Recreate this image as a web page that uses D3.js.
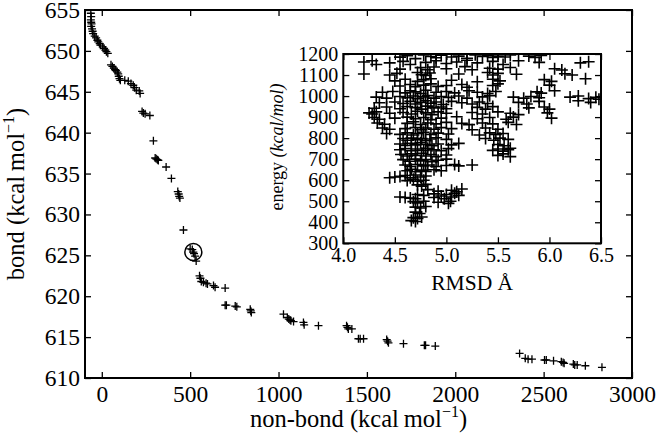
<!DOCTYPE html>
<html><head><meta charset="utf-8">
<script src="https://cdn.jsdelivr.net/npm/d3@7"></script>
<style>
body{margin:0;background:#fff;}
svg text{font-family:"Liberation Serif","Times New Roman",Times,serif !important;fill:#000;}
.axis path{display:none;}
.axis line{stroke:#000;stroke-width:1.3;}
</style></head><body>
<svg id="c" width="657" height="437"></svg>
<script>
// ---- main plot data ----
const nonBond = [-62,-60,-62,-60,-58,-60,-55,-52,-49,-40,-32,-25,-20,-12,-8,5,13,20,26,34,
 52,60,68,75,80,88,93,96,100,105,130,150,165,178,185,195,212,217,
 228,235,245,272,292,302,308,315,320,364,394,430,435,438,442,462,
 500,512,518,522,528,534,553,558,563,575,590,598,632,641,698,
 698,705,755,764,840,843,846,1028,1050,1058,1065,1070,1085,1141,1145,1226,
 1385,1390,1395,1415,1452,1462,1481,1612,1617,1622,1707,1825,1832,1887,
 2364,2396,2412,2434,2505,2515,2556,2600,2610,2616,2668,2676,2690,2736,2830];
const bond = [654.6,654.2,653.8,653.5,653.3,653.0,652.7,652.4,652.1,651.8,651.6,651.3,651.1,650.9,650.7,650.5,650.3,650.1,649.9,649.7,
 648.3,648.1,647.9,647.7,647.6,647.4,647.2,646.9,646.6,646.4,646.4,646.3,646.0,645.8,645.5,645.2,645.1,644.8,
 642.6,642.4,642.3,642.1,639.0,636.9,636.8,636.7,636.6,635.8,634.4,632.8,632.5,632.2,632.0,628.1,
 625.8,625.7,625.4,625.2,624.9,624.3,622.5,622.2,621.8,621.7,621.6,621.5,621.3,621.1,621.0,
 618.9,618.9,618.8,618.7,618.4,618.2,618.0,617.8,617.4,617.2,617.1,617.0,616.9,616.8,616.5,616.4,
 616.4,616.2,616.0,616.0,614.8,614.8,614.8,614.7,614.5,614.3,614.2,614.0,614.0,613.9,
 613.0,612.4,612.3,612.3,612.2,612.2,612.1,612.0,611.9,611.8,611.7,611.6,611.6,611.5,611.3];
const highlight = [518, 625.4];
const xTicks = [0,500,1000,1500,2000,2500,3000];
const yTicks = [610,615,620,625,630,635,640,645,650,655];

// ---- inset data: [RMSD, energy] ----
const insetPoints = [
 [4.55,1185],[4.62,1192],[4.7,1178],[4.78,1195],[4.85,1188],[4.9,1182],[4.95,1194],[5.05,1186],[5.12,1190],[5.2,1180],[5.28,1196],[5.35,1188],[5.4,1192],[5.45,1184],[5.5,1190],[5.57,1186],[5.62,1195],[5.8,1190],[5.86,1184],[5.92,1193],
 [4.2,1162],[4.28,1168],[4.32,1150],[4.45,1158],[4.58,1165],[4.65,1150],[4.8,1160],[4.9,1168],[5.0,1155],[5.1,1162],[5.2,1170],[5.3,1158],[5.45,1165],[5.55,1150],[5.7,1168],[5.9,1160],[6.3,1158],[6.38,1163],
 [4.55,1128],[4.75,1135],[4.82,1125],[4.88,1138],[5.0,1130],[5.18,1140],[5.25,1125],[5.42,1132],[5.5,1128],[5.62,1136],[6.05,1130],[6.12,1124],
 [4.2,1105],[4.45,1100],[4.52,1108],[4.72,1112],[4.76,1102],[4.8,1098],[4.84,1110],[5.12,1105],[5.4,1112],[5.45,1100],[5.5,1108],[5.68,1104],[6.15,1106],[6.22,1100],
 [4.5,1072],[4.6,1080],[4.72,1070],[4.78,1078],[4.85,1082],[5.05,1075],[5.3,1068],[5.45,1080],[5.52,1072],[5.95,1078],[6.02,1070],[6.35,1082],
 [4.55,1048],[4.65,1055],[4.7,1045],[4.78,1052],[4.85,1058],[4.92,1046],[5.0,1050],[5.15,1055],[5.2,1042],[5.45,1050],[5.5,1058],[6.0,1052],
 [4.38,1018],[4.48,1022],[4.6,1015],[4.65,1025],[4.7,1020],[4.75,1012],[4.8,1028],[4.9,1018],[5.0,1022],[5.08,1015],[5.22,1025],[5.3,1018],[5.4,1012],[5.48,1022],[5.88,1020],[5.92,1014],[6.05,1025],
 [4.32,995],[4.42,990],[4.55,998],[4.62,992],[4.68,1000],[4.72,988],[4.78,996],[4.82,1002],[4.88,990],[4.95,998],[5.02,994],[5.12,1000],[5.2,990],[5.35,996],[5.42,1002],[5.65,995],[5.75,990],[5.82,998],[5.9,992],[6.2,995],[6.28,1000],[6.38,988],[6.45,994],[6.48,985],
 [4.35,968],[4.5,972],[4.58,965],[4.65,975],[4.7,962],[4.75,970],[4.8,978],[4.85,966],[4.9,972],[4.97,960],[5.05,975],[5.15,968],[5.25,962],[5.32,972],[5.4,965],[5.7,970],[5.78,962],[5.9,975],[6.28,978],[6.4,970],
 [4.3,942],[4.42,948],[4.55,940],[4.62,950],[4.7,945],[4.76,938],[4.82,952],[4.88,944],[4.95,948],[5.0,940],[5.3,946],[5.38,938],[5.45,950],[5.8,944],[5.95,948],[6.0,938],
 [4.25,920],[4.28,915],[4.32,925],[4.45,918],[4.58,922],[4.66,915],[4.72,928],[4.8,920],[4.86,912],[4.92,925],[5.0,918],[5.25,922],[5.35,915],[5.5,925],[5.62,918],[5.7,912],[5.98,920],
 [4.3,898],[4.35,890],[4.5,895],[4.62,900],[4.7,892],[4.78,898],[4.85,888],[4.95,895],[5.1,902],[5.3,892],[5.42,898],[5.58,890],[5.65,900],[6.02,895],
 [4.33,872],[4.4,866],[4.62,870],[4.68,878],[4.75,865],[4.82,872],[4.9,868],[5.0,875],[5.15,870],[5.22,864],[5.35,872],[5.45,868],[5.6,875],[5.68,865],
 [4.38,848],[4.45,842],[4.6,845],[4.7,850],[4.76,840],[4.8,848],[4.88,842],[4.95,850],[5.05,845],[5.25,840],[5.38,848],[5.5,842],
 [4.42,822],[4.55,818],[4.62,825],[4.68,815],[4.72,822],[4.78,828],[4.85,818],[4.92,824],[5.02,820],[5.32,815],[5.42,825],[5.48,818],[5.55,822],
 [4.58,798],[4.62,790],[4.66,800],[4.72,792],[4.76,798],[4.8,788],[4.84,796],[4.9,802],[5.0,794],[5.38,798],[5.46,790],[5.52,800],[5.6,794],
 [4.55,772],[4.6,765],[4.66,775],[4.7,768],[4.75,778],[4.8,770],[4.86,764],[4.92,772],[5.05,768],[5.12,775],[5.5,770],[5.56,764],
 [4.55,745],[4.6,750],[4.66,740],[4.72,748],[4.78,742],[4.82,752],[4.88,745],[4.95,740],[5.02,750],[5.45,742],[5.5,748],[5.55,738],[5.6,745],[5.62,752],
 [4.56,722],[4.62,715],[4.66,725],[4.7,718],[4.76,728],[4.8,715],[4.85,722],[4.9,712],[5.0,720],[5.5,718],[5.55,725],[5.62,712],
 [4.58,698],[4.64,690],[4.7,700],[4.75,692],[4.8,698],[4.86,688],[4.92,695],[5.0,700],
 [4.6,672],[4.65,665],[4.72,675],[4.78,668],[4.82,672],[4.9,665],[5.0,670],[5.08,675],[5.12,668],[5.25,672],
 [4.62,645],[4.66,652],[4.7,640],[4.76,648],[4.8,642],[4.88,650],[4.95,645],
 [4.45,612],[4.5,615],[4.55,618],[4.6,622],[4.65,612],[4.7,625],[4.75,615],[4.8,620],
 [4.62,598],[4.68,604],[4.72,595],[4.78,600],
 [4.72,578],[4.76,572],[4.8,580],
 [4.82,555],[4.92,548],[5.05,552],[5.1,545],[5.15,558],
 [4.72,532],[4.78,528],[4.88,535],[4.95,525],[5.0,532],[5.08,538],[5.12,528],
 [4.55,520],[4.6,518],[4.65,515],[4.7,512],[4.88,518],[4.98,512],[5.05,520],
 [4.68,498],[4.72,492],[4.78,500],[4.92,495],[5.02,490],[5.04,500],
 [4.7,472],[4.75,468],[4.8,475],
 [4.7,448],[4.74,442],
 [4.68,422],[4.72,418],[4.76,425],
 [4.66,408],[4.7,404]
];
const insetXTicks = [4.0,4.5,5.0,5.5,6.0,6.5];
const insetYTicks = [300,400,500,600,700,800,900,1000,1100,1200];

const svg = d3.select("#c");
const M = {l:85, t:10, r:632, b:378};
const x = d3.scaleLinear().domain([-95,3000]).range([M.l, M.r]);
const y = d3.scaleLinear().domain([610,655]).range([M.b, M.t]);

function plus(g, data, fx, fy, a, sw){
  g.selectAll("path.pt").data(data).join("path").attr("class","pt")
   .attr("d", d => { const px=fx(d), py=fy(d); return `M${px-a},${py}H${px+a}M${px},${py-a}V${py+a}`; })
   .attr("stroke","#000").attr("stroke-width",sw).attr("fill","none");
}

// main axes
svg.append("g").attr("class","axis").attr("transform",`translate(0,${M.b})`)
  .call(d3.axisBottom(x).tickValues(xTicks).tickSize(-6).tickPadding(7).tickFormat(d3.format("d")));
svg.append("g").attr("class","axis").attr("transform",`translate(0,${M.t})`)
  .call(d3.axisTop(x).tickValues(xTicks).tickSize(-6).tickFormat(""));
svg.append("g").attr("class","axis").attr("transform",`translate(${M.l},0)`)
  .call(d3.axisLeft(y).tickValues(yTicks).tickSize(-6).tickPadding(5).tickFormat(d3.format("d")));
svg.append("g").attr("class","axis").attr("transform",`translate(${M.r},0)`)
  .call(d3.axisRight(y).tickValues(yTicks).tickSize(-6).tickFormat(""));
svg.selectAll(".axis text").attr("font-size",23.5);

svg.append("rect").attr("x",M.l).attr("y",M.t).attr("width",M.r-M.l).attr("height",M.b-M.t)
  .attr("fill","none").attr("stroke","#000").attr("stroke-width",2);

const mainPts = nonBond.map((v,i)=>[v,bond[i]]);
plus(svg.append("g"), mainPts, d=>x(d[0]), d=>y(d[1]), 4, 1.3);
svg.append("circle").attr("cx",x(highlight[0])).attr("cy",y(highlight[1])).attr("r",8.5)
  .attr("fill","none").attr("stroke","#000").attr("stroke-width",1.5);

// axis labels
const xl = svg.append("text").attr("x",(M.l+M.r)/2).attr("y",427).attr("text-anchor","middle").attr("font-size",24.5);
xl.append("tspan").text("non-bond (kcal\u2009mol");
xl.append("tspan").attr("font-size",16).attr("dy",-10).text("\u22121");
xl.append("tspan").attr("dy",10).text(")");
const yl = svg.append("text").attr("transform",`translate(24,${(M.t+M.b)/2}) rotate(-90)`).attr("text-anchor","middle").attr("font-size",24.5);
yl.append("tspan").text("bond (kcal\u2009mol");
yl.append("tspan").attr("font-size",16).attr("dy",-10).text("\u22121");
yl.append("tspan").attr("dy",10).text(")");

// ---- inset ----
const I = {l:343.3, t:54, r:601, b:243.3};
const ix = d3.scaleLinear().domain([4.0,6.5]).range([I.l, I.r]);
const iy = d3.scaleLinear().domain([300,1200]).range([I.b, I.t]);
svg.append("rect").attr("x",I.l).attr("y",I.t).attr("width",I.r-I.l).attr("height",I.b-I.t).attr("fill","#fff");
svg.append("clipPath").attr("id","ic").append("rect").attr("x",I.l).attr("y",I.t).attr("width",I.r-I.l).attr("height",I.b-I.t);
plus(svg.append("g").attr("clip-path","url(#ic)"), insetPoints, d=>ix(d[0]), d=>iy(d[1]), 6, 1.6);

const ig = svg.append("g").attr("class","axis inset");
ig.append("g").attr("transform",`translate(0,${I.b})`)
  .call(d3.axisBottom(ix).tickValues(insetXTicks).tickSize(-6).tickPadding(5).tickFormat(d3.format(".1f")));
ig.append("g").attr("transform",`translate(0,${I.t})`)
  .call(d3.axisTop(ix).tickValues(insetXTicks).tickSize(-6).tickFormat(""));
ig.append("g").attr("transform",`translate(${I.l},0)`)
  .call(d3.axisLeft(iy).tickValues(insetYTicks).tickSize(-6).tickPadding(5).tickFormat(d3.format("d")));
ig.append("g").attr("transform",`translate(${I.r},0)`)
  .call(d3.axisRight(iy).tickValues(insetYTicks).tickSize(-6).tickFormat(""));
ig.selectAll("text").attr("font-size",20);
svg.append("rect").attr("x",I.l).attr("y",I.t).attr("width",I.r-I.l).attr("height",I.b-I.t)
  .attr("fill","none").attr("stroke","#000").attr("stroke-width",2);

svg.append("text").attr("x",(I.l+I.r)/2).attr("y",290).attr("text-anchor","middle").attr("font-size",21.5).text("RMSD \u00C5");
const il = svg.append("text").attr("transform",`translate(283,147) rotate(-90)`).attr("text-anchor","middle").attr("font-size",18);
il.append("tspan").text("energy ");
il.append("tspan").attr("font-style","italic").text("(kcal/mol)");
</script></body></html>
